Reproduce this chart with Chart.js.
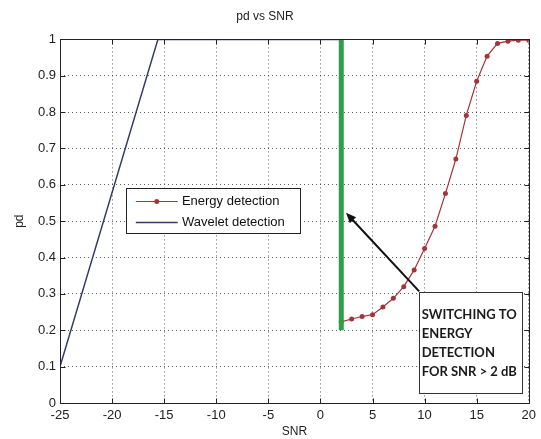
<!DOCTYPE html>
<html>
<head>
<meta charset="utf-8">
<script src="https://cdn.jsdelivr.net/npm/chart.js@4"></script>
<style>
  html, body { margin: 0; padding: 0; background: #fff; }
</style>
</head>
<body>
<canvas id="pdChart" width="541" height="439"></canvas>
<script>
// energy detection curve
const snrEnergy = [2, 3, 4, 5, 6, 7, 8, 9, 10, 11, 12, 13, 14, 15, 16, 17, 18, 19, 20];
const pdEnergy = [0.223, 0.231, 0.238, 0.243, 0.264, 0.288, 0.320, 0.366, 0.425, 0.486,
                  0.576, 0.671, 0.791, 0.885, 0.954, 0.989, 0.995, 0.998, 0.998];

// wavelet detection curve
const snrWavelet = [-25, -15.6, 2];
const pdWavelet = [0.1, 1, 1];

// switching point marker
const snrSwitch = [2, 2];
const pdSwitch = [0.2, 1];

const legendLabels = ['Energy detection', 'Wavelet detection'];
const noteLines = ['SWITCHING TO', 'ENERGY', 'DETECTION', 'FOR SNR > 2 dB'];

const energyColor = '#a3353a';
const waveletColor = '#323c66';
const switchColor = '#2f9e4b';

const toPts = (xs, ys) => xs.map((v, i) => ({ x: v, y: ys[i] }));

// frame, inward ticks, legend box and the annotation
const overlay = {
  id: 'overlay',
  afterDatasetsDraw(chart) {
    const { ctx, chartArea: a, scales: { x, y } } = chart;
    ctx.save();
    ctx.strokeStyle = '#222';
    ctx.lineWidth = 1;
    const L = Math.round(a.left) + 0.5, R = Math.round(a.right) + 0.5;
    const T = Math.round(a.top) + 0.5, B = Math.round(a.bottom) + 0.5;
    ctx.strokeRect(L, T, R - L, B - T);
    ctx.beginPath();
    x.ticks.forEach(t => {
      const px = Math.round(x.getPixelForValue(t.value)) + 0.5;
      ctx.moveTo(px, B); ctx.lineTo(px, B - 5);
      ctx.moveTo(px, T); ctx.lineTo(px, T + 5);
    });
    y.ticks.forEach(t => {
      const py = Math.round(y.getPixelForValue(t.value)) + 0.5;
      ctx.moveTo(L, py); ctx.lineTo(L + 5, py);
      ctx.moveTo(R, py); ctx.lineTo(R - 5, py);
    });
    ctx.stroke();

    // legend
    const lx0 = x.getPixelForValue(-18.68), lx1 = x.getPixelForValue(-2.0);
    const ly0 = y.getPixelForValue(0.592), ly1 = y.getPixelForValue(0.468);
    ctx.fillStyle = '#fff';
    ctx.fillRect(lx0, ly0, lx1 - lx0, ly1 - ly0);
    ctx.strokeStyle = '#222';
    ctx.strokeRect(Math.round(lx0) + 0.5, Math.round(ly0) + 0.5, Math.round(lx1 - lx0), Math.round(ly1 - ly0));
    const sx0 = x.getPixelForValue(-17.72), sx1 = x.getPixelForValue(-13.7);
    const rows = [0.555, 0.498];
    const cols = [energyColor, waveletColor];
    ctx.font = '13px "Liberation Sans", Arial, sans-serif';
    ctx.textBaseline = 'middle';
    rows.forEach((r, i) => {
      const py = Math.round(y.getPixelForValue(r)) + 0.5;
      ctx.strokeStyle = cols[i];
      ctx.lineWidth = i === 0 ? 1 : 1.5;
      ctx.beginPath(); ctx.moveTo(sx0, py); ctx.lineTo(sx1, py); ctx.stroke();
      if (i === 0) {
        ctx.fillStyle = cols[i];
        ctx.beginPath(); ctx.arc((sx0 + sx1) / 2, py, 2.5, 0, Math.PI * 2); ctx.fill();
      }
      ctx.fillStyle = '#111';
      ctx.fillText(legendLabels[i], x.getPixelForValue(-13.3), py);
    });

    // annotation arrow
    const ax0 = x.getPixelForValue(9.48), ay0 = y.getPixelForValue(0.307);
    const ax1 = x.getPixelForValue(2.46), ay1 = y.getPixelForValue(0.523);
    const ang = Math.atan2(ay1 - ay0, ax1 - ax0);
    ctx.strokeStyle = '#111';
    ctx.fillStyle = '#111';
    ctx.lineWidth = 2;
    ctx.beginPath();
    ctx.moveTo(ax0, ay0);
    ctx.lineTo(ax1 - 6 * Math.cos(ang), ay1 - 6 * Math.sin(ang));
    ctx.stroke();
    ctx.beginPath();
    ctx.moveTo(ax1, ay1);
    ctx.lineTo(ax1 - 11 * Math.cos(ang - 0.4), ay1 - 11 * Math.sin(ang - 0.4));
    ctx.lineTo(ax1 - 11 * Math.cos(ang + 0.4), ay1 - 11 * Math.sin(ang + 0.4));
    ctx.closePath();
    ctx.fill();

    // annotation box
    const bx0 = x.getPixelForValue(9.45), bx1 = x.getPixelForValue(19.35);
    const by0 = y.getPixelForValue(0.305), by1 = y.getPixelForValue(0.028);
    ctx.fillStyle = '#fff';
    ctx.fillRect(bx0, by0, bx1 - bx0, by1 - by0);
    ctx.strokeStyle = '#333';
    ctx.lineWidth = 1;
    ctx.strokeRect(Math.round(bx0) + 0.5, Math.round(by0) + 0.5, Math.round(bx1 - bx0), Math.round(by1 - by0));
    ctx.fillStyle = '#1a1a1a';
    ctx.font = 'bold 13px Lato, "Open Sans", sans-serif';
    const textRows = [0.242, 0.190, 0.1386, 0.0862];
    noteLines.forEach((s, i) => {
      ctx.fillText(s, x.getPixelForValue(9.72), y.getPixelForValue(textRows[i]));
    });
    ctx.restore();
  }
};

const datasets = [
  {
    label: 'switch',
    data: toPts(snrSwitch, pdSwitch),
    borderColor: switchColor,
    borderWidth: 5,
    pointRadius: 0,
    order: 0,
  },
  {
    label: legendLabels[0],
    data: toPts(snrEnergy, pdEnergy),
    borderColor: energyColor,
    backgroundColor: energyColor,
    borderWidth: 1.2,
    pointRadius: 2.5,
    pointBorderWidth: 0,
    order: 1,
  },
  {
    label: legendLabels[1],
    data: toPts(snrWavelet, pdWavelet),
    borderColor: waveletColor,
    borderWidth: 1.5,
    pointRadius: 0,
    order: 2,
  }
];

const axisFont = { family: '"Liberation Sans", Arial, sans-serif', size: 13 };
const gridStyle = {
  color: 'rgba(40,40,40,0.75)',
  lineWidth: 1,
  drawTicks: false,
};

const config = {
  type: 'line',
  data: { datasets: datasets },
  options: {
    responsive: false,
    animation: false,
    layout: { padding: { left: 0, right: 11, top: 0, bottom: 0 } },
    plugins: {
      legend: { display: false },
      tooltip: { enabled: false },
      title: {
        display: true,
        text: 'pd vs SNR',
        color: '#222',
        font: { family: '"Liberation Sans", Arial, sans-serif', size: 12, weight: 'normal' },
        padding: { top: 9, bottom: 16 },
      }
    },
    scales: {
      x: {
        type: 'linear',
        min: -25,
        max: 20,
        grid: { ...gridStyle },
        border: { display: false, dash: [1, 3] },
        ticks: { stepSize: 5, color: '#222', font: axisFont, padding: 5, maxRotation: 0 },
        title: { display: true, text: 'SNR', color: '#222', font: { ...axisFont, size: 12 }, padding: { top: 1, bottom: 0 } },
        afterFit: s => { s.height = 36; },
      },
      y: {
        type: 'linear',
        min: 0,
        max: 1,
        grid: { ...gridStyle },
        border: { display: false, dash: [1, 3] },
        ticks: {
          stepSize: 0.1, color: '#222', font: axisFont, padding: 4,
          callback: v => String(Number(v.toFixed(1)))
        },
        title: { display: true, text: 'pd', color: '#222', font: { ...axisFont, size: 12 }, padding: { top: 12, bottom: 0 } },
        afterFit: s => { s.width = 60; },
      }
    }
  },
  plugins: [overlay]
};

Chart.defaults.font.family = '"Liberation Sans", Arial, sans-serif';
const pdChart = new Chart(document.getElementById('pdChart').getContext('2d'), config);
</script>
</body>
</html>
